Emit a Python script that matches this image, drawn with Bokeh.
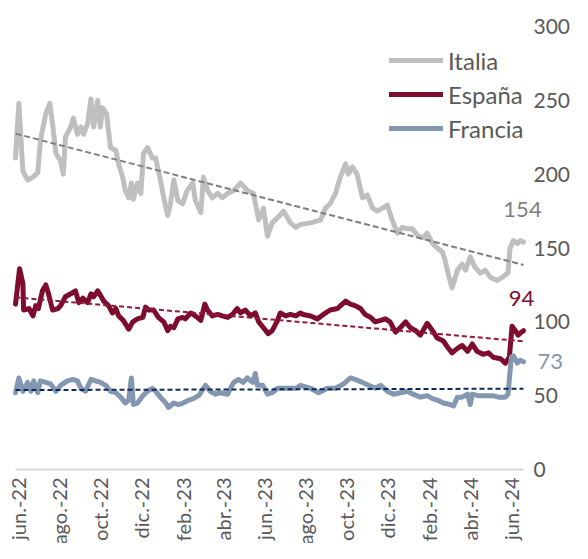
import numpy as np
import pandas as pd
from math import pi
from bokeh.plotting import figure
from bokeh.models import Range1d, Label, LabelSet, ColumnDataSource, Legend, LegendItem
from bokeh.core.properties import value
from bokeh.embed import file_html
from bokeh.resources import INLINE

# ---------------- data ----------------
BASE_DATE = "2022-06-01"   # day 0 of the day offsets below

tick_dates = ["2022-06-01", "2022-08-01", "2022-10-01", "2022-12-01",
              "2023-02-01", "2023-04-01", "2023-06-01", "2023-08-01",
              "2023-10-01", "2023-12-01", "2024-02-01", "2024-04-01",
              "2024-06-01"]
tick_labels = ["jun.-22", "ago.-22", "oct.-22", "dic.-22", "feb.-23", "abr.-23",
               "jun.-23", "ago.-23", "oct.-23", "dic.-23", "feb.-24", "abr.-24",
               "jun.-24"]
y_ticks = [0, 50, 100, 150, 200, 250, 300]

series_names = ["Italia", "España", "Francia"]

italia_days = [-4, 1, 7, 14, 22, 29, 33, 41, 47, 51, 56, 63, 67, 70, 78, 82, 88, 93, 97, 103,
               108, 112, 118, 122, 125, 131, 137, 145, 149, 155, 159, 164, 168, 171, 177, 182,
               186, 192, 199, 204, 211, 216, 222, 226, 231, 237, 244, 251, 259, 263, 271, 275,
               281, 288, 296, 303, 311, 320, 330, 340, 349, 357, 364, 370, 377, 386, 394, 404,
               412, 419, 434, 449, 456, 463, 471, 478, 486, 490, 496, 503, 511, 518, 526, 533,
               541, 548, 555, 563, 570, 578, 585, 594, 601, 607, 615, 622, 630, 634, 638, 644,
               652, 659, 664, 671, 678, 686, 693, 701, 711, 718, 727, 730, 735, 741, 745, 750]
italia_vals = [211, 248, 202, 196, 198, 201, 223, 241, 248, 234, 214, 209, 200, 225, 232, 238,
               227, 232, 227, 234, 251, 232, 250, 232, 245, 241, 218, 216, 207, 198, 189, 184,
               194, 183, 194, 187, 214, 218, 211, 211, 196, 184, 172, 180, 196, 182, 180, 189,
               194, 182, 174, 198, 189, 184, 187, 184, 187, 189, 194, 189, 187, 169, 177, 158,
               167, 171, 175, 167, 164, 166, 167, 169, 177, 180, 187, 198, 207, 200, 205, 200,
               184, 186, 177, 175, 177, 179, 169, 160, 164, 163, 163, 158, 157, 160, 153, 150,
               147, 141, 133, 123, 135, 139, 135, 144, 137, 133, 135, 130, 128, 130, 133, 150,
               155, 153, 155, 154]

espana_days = [-4, 2, 7, 8, 16, 22, 26, 30, 36, 41, 45, 51, 59, 63, 70, 78, 85, 90, 96, 103,
               108, 112, 118, 122, 127, 134, 140, 145, 149, 156, 164, 170, 177, 185, 189, 194,
               201, 208, 216, 222, 226, 231, 237, 244, 248, 256, 263, 271, 277, 281, 288, 296,
               303, 311, 318, 325, 330, 337, 345, 352, 357, 364, 371, 377, 385, 389, 397, 404,
               412, 419, 423, 434, 444, 453, 463, 474, 481, 486, 493, 500, 508, 515, 523, 530,
               538, 545, 552, 560, 567, 575, 582, 590, 597, 607, 615, 622, 631, 637, 644, 652,
               659, 667, 674, 681, 690, 698, 705, 716, 723, 729, 733, 738, 742, 747, 750]
espana_vals = [112, 136, 126, 108, 109, 104, 111, 109, 121, 125, 119, 108, 109, 111, 117, 119,
               121, 113, 116, 113, 119, 117, 121, 118, 114, 111, 106, 109, 104, 101, 95, 100,
               102, 103, 110, 108, 108, 103, 100, 94, 97, 96, 102, 103, 102, 106, 104, 101,
               112, 108, 104, 105, 104, 103, 105, 109, 106, 108, 104, 106, 100, 96, 92, 94,
               101, 106, 104, 105, 104, 106, 105, 104, 102, 105, 108, 109, 112, 114, 112, 111,
               109, 105, 103, 100, 101, 102, 100, 93, 96, 100, 96, 94, 91, 99, 94, 89, 87, 83,
               79, 82, 84, 80, 85, 80, 78, 79, 76, 75, 72, 76, 97, 94, 91, 93, 94]

francia_days = [-4, 1, 7, 14, 19, 23, 29, 33, 41, 48, 56, 63, 73, 81, 88, 93, 100, 108, 115, 122,
                130, 137, 145, 152, 159, 164, 168, 171, 177, 185, 192, 199, 204, 211, 219, 223,
                231, 238, 245, 253, 260, 268, 278, 285, 293, 300, 311, 315, 320, 327, 334, 340,
                348, 352, 355, 363, 370, 377, 385, 394, 404, 412, 419, 434, 446, 459, 471, 483,
                493, 500, 511, 520, 530, 538, 548, 557, 567, 578, 586, 597, 607, 615, 622, 631,
                641, 646, 652, 659, 667, 671, 674, 683, 693, 704, 713, 723, 727, 732, 735, 741,
                745, 750]
francia_vals = [52, 62, 53, 59, 53, 60, 52, 60, 59, 58, 53, 57, 60, 61, 60, 55, 53, 61, 60, 59,
                57, 53, 52, 49, 45, 47, 62, 44, 45, 50, 53, 55, 53, 49, 45, 42, 45, 44, 45, 47,
                48, 50, 57, 53, 51, 52, 51, 55, 59, 61, 59, 62, 59, 65, 57, 57, 51, 52, 55, 55,
                55, 55, 57, 55, 52, 55, 55, 58, 62, 61, 59, 57, 55, 57, 53, 51, 52, 53, 51, 49,
                50, 48, 47, 45, 44, 43, 49, 49, 51, 44, 51, 50, 50, 50, 49, 49, 51, 76, 77, 72,
                74, 73]

# ---------------- styles ----------------
FONT = "Lato"
TXT = "#595959"
colors = {"Italia": "#bfbfbf", "España": "#7d0c2e", "Francia": "#8497b0"}
trend_colors = {"Italia": "#7f7f7f", "España": "#8e1a3c", "Francia": "#0d2a5c"}
label_colors = {"Italia": "#808080", "España": "#7d0c2e", "Francia": "#8497b0"}

data = {
    "Italia": (italia_days, italia_vals),
    "España": (espana_days, espana_vals),
    "Francia": (francia_days, francia_vals),
}

base = pd.Timestamp(BASE_DATE)
tick_days = [(pd.Timestamp(d) - base).days for d in tick_dates]

x_start = min(min(d) for d, _ in data.values())
x_end = max(max(d) for d, _ in data.values())

# the frame fills the whole figure; the margins are made with range padding
W, H = 572, 543
left_px, right_px = 15, 49         # room left of / right of the data
top_px, bottom_px = 26, 74         # room above 300 / below 0
y_top = 300
xs_per_px = (x_end - x_start) / (W - left_px - right_px)
ys_per_px = y_top / (H - top_px - bottom_px)
x_range = Range1d(x_start - left_px * xs_per_px, x_end + right_px * xs_per_px)
y_range = Range1d(-bottom_px * ys_per_px, y_top + top_px * ys_per_px)

p = figure(width=W, height=H, output_backend="svg", toolbar_location=None,
           x_range=x_range, y_range=y_range,
           x_axis_location=None, y_axis_location=None,
           min_border=0)
p.outline_line_color = None
p.grid.visible = False
p.background_fill_color = "white"
p.border_fill_color = "white"

# x axis base line (under the data span)
p.segment(x0=[x_start], y0=[0], x1=[x_end], y1=[0], line_color="#d9d9d9", line_width=2)

renderers = {}
for name in series_names:
    d, v = data[name]
    renderers[name] = p.line(d, v, line_width=5, color=colors[name],
                             line_join="round", line_cap="round")

# linear trend lines, fitted on each series
dash = {"Italia": "6 3", "España": "5 3", "Francia": "5 3"}
for name in series_names:
    d, v = data[name]
    k, b = np.polyfit(np.array(d, float), np.array(v, float), 1)
    xs = np.array([d[0], d[-1]], float)
    p.line(xs, k * xs + b, line_width=2, color=trend_colors[name], line_dash=dash[name])

legend = Legend(items=[LegendItem(label=n, renderers=[renderers[n]]) for n in series_names],
                location=(389, 400))
legend.border_line_color = None
legend.background_fill_alpha = 0
legend.padding = 0
legend.margin = 0
legend.spacing = 4
legend.glyph_width = 54
legend.glyph_height = 30
legend.label_height = 30
legend.label_standoff = 5
legend.label_text_font = FONT
legend.label_text_font_size = "24px"
legend.label_text_color = TXT
p.add_layout(legend)

# y tick labels at the right of the data
ytick_src = ColumnDataSource(dict(y=y_ticks, text=[str(t) for t in y_ticks]))
p.add_layout(LabelSet(x=x_end, y="y", text="text", source=ytick_src, x_offset=10,
                      text_align="left", text_baseline="middle",
                      text_font=value(FONT), text_font_size=value("21px"),
                      text_color=value(TXT)))

# month labels under the axis
tick_src = ColumnDataSource(dict(x=tick_days, text=tick_labels))
p.add_layout(LabelSet(x="x", y=0, text="text", source=tick_src, angle=pi / 2,
                      text_align="right", text_baseline="middle", y_offset=-8,
                      text_font=value(FONT), text_font_size=value("20px"),
                      text_color=value(TXT)))

# last-value labels
offsets = {"Italia": (-1, 33, "center"), "España": (-2, 32, "center"), "Francia": (14, 0, "left")}
for name in series_names:
    d, v = data[name]
    dx, dy, al = offsets[name]
    p.add_layout(Label(x=d[-1], y=v[-1], text=f"{v[-1]:.0f}", x_offset=dx, y_offset=dy,
                       text_align=al, text_baseline="middle", text_font=FONT,
                       text_font_size="22px", text_color=label_colors[name]))

open("out.html", "w").write(file_html(p, INLINE))
